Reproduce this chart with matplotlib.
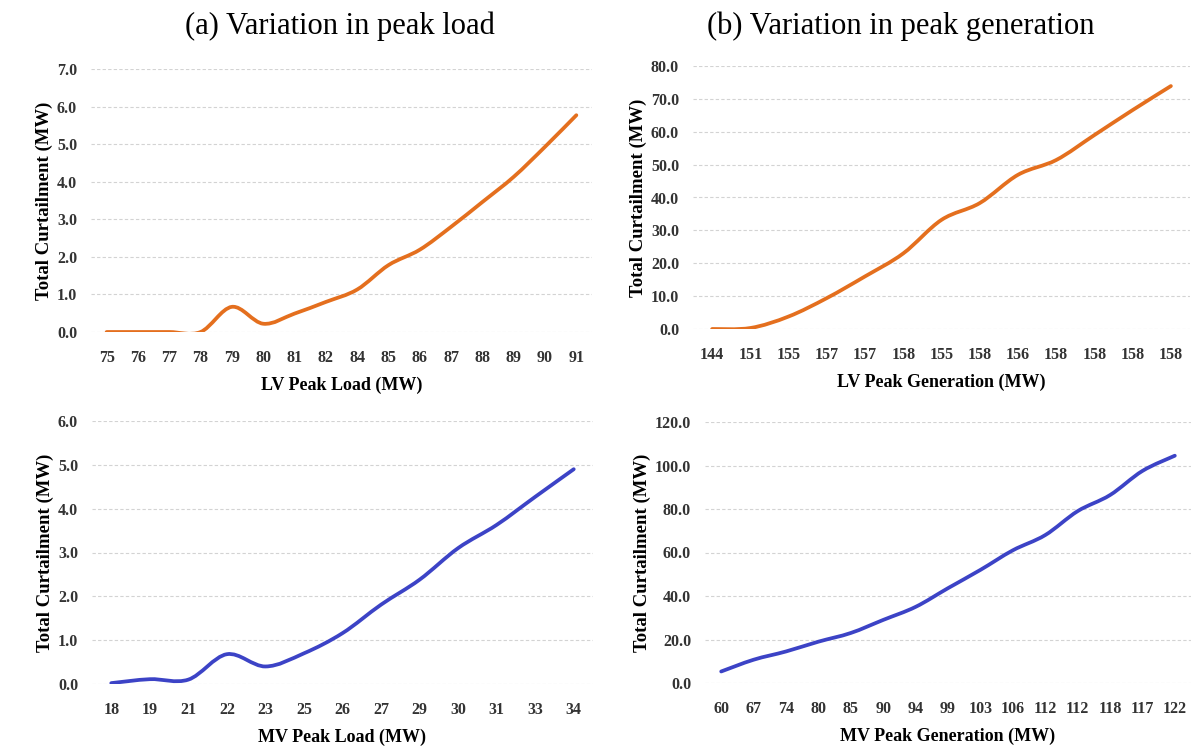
import numpy as np
import matplotlib.pyplot as plt
from matplotlib.path import Path
from matplotlib.patches import PathPatch

# ---------------------------------------------------------------------------
# data
# ---------------------------------------------------------------------------
lv_load_cats = ["75", "76", "77", "78", "79", "80", "81", "82", "84", "85", "86",
                "87", "88", "89", "90", "91"]
lv_load_vals = [0.0, 0.0, 0.0, 0.0, 0.67, 0.22, 0.49, 0.8, 1.13, 1.78, 2.19,
                2.8, 3.46, 4.13, 4.93, 5.77]

lv_gen_cats = ["144", "151", "155", "157", "157", "158", "155", "158", "156",
               "158", "158", "158", "158"]
lv_gen_vals = [0.0, 0.3, 3.8, 9.4, 16.0, 23.0, 33.2, 38.3, 46.9, 51.4, 59.0,
               66.6, 73.9]

mv_load_cats = ["18", "19", "21", "22", "23", "25", "26", "27", "29", "30",
                "31", "33", "34"]
mv_load_vals = [0.02, 0.11, 0.1, 0.68, 0.4, 0.7, 1.16, 1.81, 2.38, 3.1, 3.63,
                4.27, 4.9]

mv_gen_cats = ["60", "67", "74", "80", "85", "90", "94", "99", "103", "106",
               "112", "112", "118", "117", "122"]
mv_gen_vals = [5.3, 10.7, 14.5, 19.0, 23.0, 29.0, 35.0, 43.6, 52.0, 61.0, 68.0,
               79.0, 86.4, 97.5, 104.5]

ORANGE = "#E46F1E"
BLUE = "#3C43C6"

plt.rcParams['font.family'] = ['Liberation Serif', 'DejaVu Serif']

W, H = 1196, 746
fig = plt.figure(figsize=(W / 100, H / 100), dpi=100)


def px_axes(left, top, right, bottom):
    # axes placed with pixel coordinates measured from the top-left corner
    return fig.add_axes([left / W, 1 - bottom / H, (right - left) / W, (bottom - top) / H])


def smooth_line(ax, vals, color):
    # Excel-like smoothed line: Catmull-Rom segments drawn as cubic Beziers
    x = np.arange(len(vals), dtype=float)
    y = np.asarray(vals, dtype=float)
    pts = np.column_stack([x, y])
    ext = np.vstack([pts[0], pts, pts[-1]])
    verts = [tuple(pts[0])]
    codes = [Path.MOVETO]
    for i in range(len(pts) - 1):
        p0, p1, p2, p3 = ext[i], ext[i + 1], ext[i + 2], ext[i + 3]
        c1 = p1 + (p2 - p0) / 6.0
        c2 = p2 - (p3 - p1) / 6.0
        verts += [tuple(c1), tuple(c2), tuple(p2)]
        codes += [Path.CURVE4] * 3
    patch = PathPatch(Path(verts, codes), facecolor="none", edgecolor=color,
                      lw=2.7, capstyle="round", joinstyle="round")
    ax.add_patch(patch)


def style_panel(ax, cats, vals, color, ymax, ystep, xlabel):
    smooth_line(ax, vals, color)
    ax.set_xlim(-0.5, len(cats) - 0.5)
    ax.set_ylim(0, ymax)
    ax.set_xticks(range(len(cats)))
    ax.set_xticklabels(cats)
    yt = np.arange(0, ymax + ystep / 2, ystep)
    ax.set_yticks(yt)
    ax.set_yticklabels(["%.1f" % v for v in yt])
    for s in ax.spines.values():
        s.set_visible(False)
    ax.tick_params(length=0, labelsize=11.5, colors="#333333")
    ax.tick_params(axis="x", pad=13)
    ax.tick_params(axis="y", pad=10)
    for lab in ax.get_xticklabels() + ax.get_yticklabels():
        lab.set_fontweight("bold")
    ax.yaxis.grid(True, color="#d3d3d3", linestyle=(0, (3, 2)), lw=0.8)
    ax.set_axisbelow(True)
    ax.set_xlabel(xlabel, fontsize=13, fontweight="bold", labelpad=8)
    ax.set_ylabel("Total Curtailment (MW)", fontsize=13.5, fontweight="bold", labelpad=3)


ax1 = px_axes(91, 69, 592, 332)
style_panel(ax1, lv_load_cats, lv_load_vals, ORANGE, 7.0, 1.0, "LV Peak Load (MW)")

ax2 = px_axes(693, 66, 1190, 329)
style_panel(ax2, lv_gen_cats, lv_gen_vals, ORANGE, 80.0, 10.0, "LV Peak Generation (MW)")

ax3 = px_axes(92, 421, 593, 684)
style_panel(ax3, mv_load_cats, mv_load_vals, BLUE, 6.0, 1.0, "MV Peak Load (MW)")

ax4 = px_axes(705, 422, 1191, 683)
style_panel(ax4, mv_gen_cats, mv_gen_vals, BLUE, 120.0, 20.0, "MV Peak Generation (MW)")

fig.text(340 / W, 1 - 26 / H, "(a) Variation in peak load", fontsize=22,
         ha="center", va="center")
fig.text(901 / W, 1 - 26 / H, "(b) Variation in peak generation", fontsize=22,
         ha="center", va="center")

fig.savefig("out.png", dpi=100)
